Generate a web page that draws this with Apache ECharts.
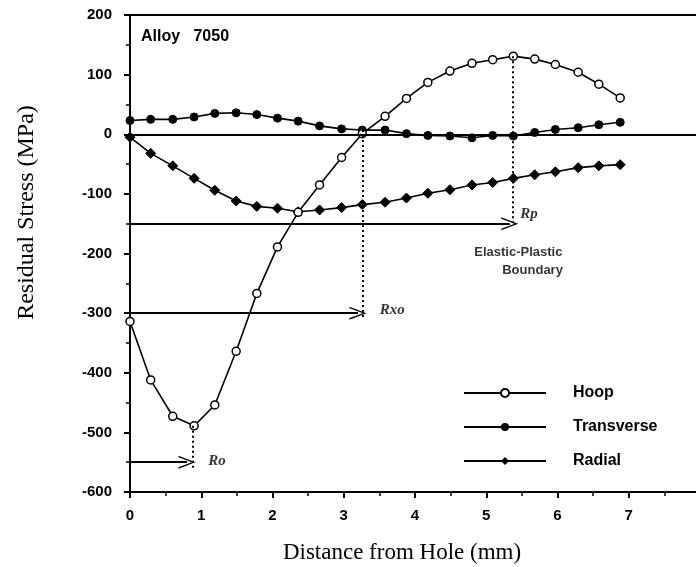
<!DOCTYPE html>
<html>
<head>
<meta charset="utf-8">
<script src="https://cdn.jsdelivr.net/npm/echarts@6/dist/echarts.min.js"></script>
<style>
html,body{margin:0;padding:0;background:#fff;}
#chart{width:696px;height:567px;}
</style>
</head>
<body>
<div id="chart"></div>
<script>
// Distance from hole (mm)
const distance = [0, 0.29, 0.6, 0.9, 1.19, 1.49, 1.78, 2.07, 2.36, 2.66, 2.97, 3.26,
                  3.58, 3.88, 4.18, 4.49, 4.8, 5.09, 5.38, 5.68, 5.97, 6.29, 6.58, 6.88];
// Residual stress (MPa)
const hoop = [-314, -412, -473, -489, -454, -364, -267, -189, -131, -85, -39, 1,
              30, 60, 87, 106, 119, 125, 131, 126, 117, 104, 84, 61];
const transverse = [23, 25, 25, 29, 35, 36, 33, 27, 22, 14, 9, 7,
                    7, 1, -2, -3, -6, -2, -3, 3, 8, 11, 16, 20];
const radial = [-5, -32, -53, -74, -94, -112, -121, -124, -130, -127, -123, -118,
                -114, -107, -99, -93, -85, -81, -74, -68, -63, -56, -53, -51];

const xTicks = [0, 1, 2, 3, 4, 5, 6, 7, 8];
const yTicks = [-600, -500, -400, -300, -200, -100, 0, 100, 200];

// Annotation arrows: level (MPa) and end position (mm)
const arrowNames = ['Rp', 'Rxo', 'Ro'];
const arrowLevel = [-150, -300, -550];
const arrowEnd = [5.33, 3.2, 0.8];
// Dotted guide lines: x position, top, bottom
const guideX = [5.37, 3.27, 0.88];
const guideTop = [131, 7, -489];
const guideBottom = [-152, -308, -560];
// Text annotations
const noteTexts = ['Rp', 'Rxo', 'Ro', 'Elastic-Plastic', 'Boundary'];
const noteX = [5.6, 3.68, 1.22, 5.45, 5.65];
const noteY = [-134, -295, -549, -199, -228];

const pairs = arr => distance.map((d, i) => [d, arr[i]]);
const chevron = 'path://M0,12 L6,0 L12,12 L10.6,12 L6,2.6 L1.4,12 Z';

const lines = [{ yAxis: 0, symbol: 'none', lineStyle: { type: 'solid', width: 2, color: '#000' } }];
arrowNames.forEach((n, i) => {
  lines.push([
    { coord: [0, arrowLevel[i]], symbol: 'none', lineStyle: { type: 'solid', width: 2, color: '#000' } },
    { coord: [arrowEnd[i], arrowLevel[i]], symbol: chevron, symbolSize: [13, 17] }
  ]);
  lines.push([
    { coord: [guideX[i], guideTop[i]], symbol: 'none', lineStyle: { type: [2, 3], width: 2, color: '#000' } },
    { coord: [guideX[i], guideBottom[i]], symbol: 'none' }
  ]);
});

const noteItems = noteTexts.map((t, i) => {
  const isR = i < 3;
  return {
    value: [noteX[i], noteY[i]],
    label: {
      show: true,
      position: 'inside',
      formatter: t,
      color: '#000',
      fontFamily: isR ? 'Liberation Serif' : 'Liberation Sans',
      fontStyle: isR ? 'italic' : 'normal',
      fontWeight: 'bold',
      fontSize: isR ? 15 : 13
    }
  };
});

const chart = echarts.init(document.getElementById('chart'), null, { renderer: 'canvas' });
const axisFont = { color: '#000', fontFamily: 'Liberation Sans', fontWeight: 'bold', fontSize: 15 };

chart.setOption({
  backgroundColor: '#fff',
  animation: false,
  title: {
    text: 'Alloy   7050',
    left: 136, top: 24,
    textStyle: { color: '#000', fontFamily: 'Liberation Sans', fontWeight: 'bold', fontSize: 16 }
  },
  grid: {
    left: 130, width: 570, top: 15, bottom: 75,
    outerBoundsMode: 'none', containLabel: false,
    show: true, borderColor: '#000', borderWidth: 2, backgroundColor: 'transparent'
  },
  legend: {
    data: ['Hoop', 'Transverse', 'Radial'],
    orient: 'vertical',
    left: 458, top: 380,
    itemWidth: 82, itemHeight: 10, itemGap: 18,
    textStyle: { color: '#000', fontFamily: 'Liberation Sans', fontSize: 16, fontWeight: 'bold', padding: [0, 0, 0, 22] }
  },
  xAxis: {
    type: 'value', min: 0, max: 8, interval: 1,
    axisLine: { onZero: false, lineStyle: { color: '#000', width: 2 } },
    axisTick: { show: true, length: 6, lineStyle: { color: '#000', width: 2 } },
    minorTick: { show: true, splitNumber: 2, length: 4, lineStyle: { color: '#000', width: 1.5 } },
    splitLine: { show: false },
    axisLabel: Object.assign({ margin: 16, formatter: v => xTicks.includes(v) ? String(v) : '' }, axisFont),
    name: 'Distance from Hole (mm)', nameLocation: 'middle', nameGap: 49,
    nameTextStyle: { color: '#000', fontFamily: 'Liberation Serif', fontSize: 23, padding: [0, 26, 0, 0] }
  },
  yAxis: {
    type: 'value', min: -600, max: 200, interval: 100,
    axisLine: { onZero: false, lineStyle: { color: '#000', width: 2 } },
    axisTick: { show: true, length: 6, lineStyle: { color: '#000', width: 2 } },
    minorTick: { show: true, splitNumber: 2, length: 4, lineStyle: { color: '#000', width: 1.5 } },
    splitLine: { show: false },
    axisLabel: Object.assign({ margin: 18, formatter: v => yTicks.includes(v) ? String(v) : '' }, axisFont),
    name: 'Residual Stress (MPa)', nameLocation: 'middle', nameGap: 91, nameRotate: 90,
    nameTextStyle: { color: '#000', fontFamily: 'Liberation Serif', fontSize: 24, padding: [0, 0, 0, 82] }
  },
  series: [
    {
      name: 'Hoop', type: 'line', data: pairs(hoop),
      symbol: 'circle', symbolSize: 8,
      itemStyle: { color: '#fff', borderColor: '#000', borderWidth: 1.5 },
      lineStyle: { color: '#000', width: 1.6 },
      z: 4,
      markLine: { silent: true, symbol: ['none', 'none'], label: { show: false }, data: lines, animation: false }
    },
    {
      name: 'Transverse', type: 'line', data: pairs(transverse),
      symbol: 'circle', symbolSize: 8,
      itemStyle: { color: '#000', borderColor: '#000' },
      lineStyle: { color: '#000', width: 1.6 },
      z: 3
    },
    {
      name: 'Radial', type: 'line', data: pairs(radial),
      symbol: 'diamond', symbolSize: 10,
      itemStyle: { color: '#000', borderColor: '#000' },
      lineStyle: { color: '#000', width: 1.6 },
      z: 3
    },
    {
      name: 'notes', type: 'scatter', data: noteItems,
      symbolSize: 0, silent: true, z: 5
    }
  ]
});
</script>
</body>
</html>
